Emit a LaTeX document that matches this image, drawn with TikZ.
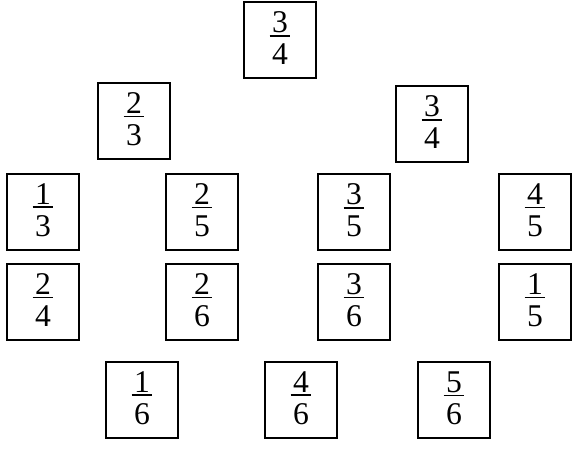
\documentclass[tikz,border=0pt]{standalone}
\usepackage{fontspec}
\setmainfont{Liberation Serif}
\newcommand{\qfrac}[2]{\vbox{\offinterlineskip\halign{\hfil##\hfil\cr #1\cr\noalign{\kern1.8pt}\rule{0.66em}{1.5pt}\cr\noalign{\kern6pt}#2\cr\noalign{\kern3.4pt}}}}

\begin{document}
\begin{tikzpicture}[x=0.03cm, y=-0.03cm,
    card/.style={draw, line width=1.6pt, inner sep=0pt, minimum width=2.16cm, minimum height=2.28cm, font=\fontsize{27}{30}\selectfont}
]
    \useasboundingbox (0,0) rectangle (573,450);

    \node[card] (top) at (280,40) {\qfrac{3}{4}};

    \node[card] (midL) at (134,121) {\qfrac{2}{3}};
    \node[card] (midR) at (432,124) {\qfrac{3}{4}};

    \node[card] (rowA1) at (43,212) {\qfrac{1}{3}};
    \node[card] (rowA2) at (202,212) {\qfrac{2}{5}};
    \node[card] (rowA3) at (354,212) {\qfrac{3}{5}};
    \node[card] (rowA4) at (535,212) {\qfrac{4}{5}};

    \node[card] (rowB1) at (43,302) {\qfrac{2}{4}};
    \node[card] (rowB2) at (202,302) {\qfrac{2}{6}};
    \node[card] (rowB3) at (354,302) {\qfrac{3}{6}};
    \node[card] (rowB4) at (535,302) {\qfrac{1}{5}};

    \node[card] (low1) at (142,400) {\qfrac{1}{6}};
    \node[card] (low2) at (301,400) {\qfrac{4}{6}};
    \node[card] (low3) at (454,400) {\qfrac{5}{6}};
\end{tikzpicture}
\end{document}
